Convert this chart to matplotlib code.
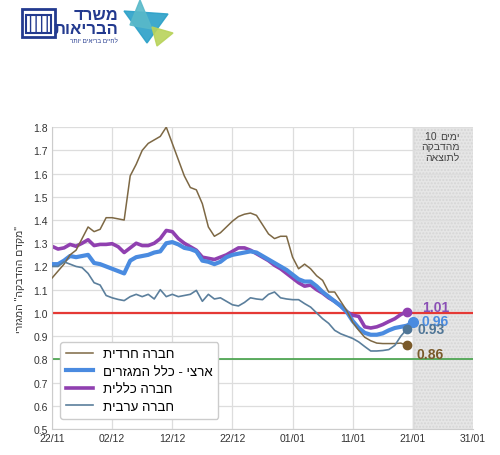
import numpy as np
import pandas as pd
import matplotlib
matplotlib.use('Agg')
import matplotlib.pyplot as plt
import matplotlib.dates as mdates
from matplotlib.patches import Polygon, Rectangle

plt.rcParams['font.family'] = ['Liberation Sans', 'DejaVu Sans']

def heb(s):
    # matplotlib has no bidi, so flip Hebrew to visual order
    return s[::-1]

start = pd.Timestamp('2020-11-22')

haredi = [1.15, 1.18, 1.21, 1.25, 1.27, 1.32, 1.37, 1.35, 1.36, 1.41,
          1.41, 1.405, 1.40, 1.59, 1.64, 1.70, 1.73, 1.745, 1.76, 1.80,
          1.73, 1.66, 1.59, 1.54, 1.53, 1.47, 1.37, 1.33, 1.345, 1.37,
          1.395, 1.415, 1.425, 1.43, 1.42, 1.38, 1.34, 1.32, 1.33, 1.33,
          1.24, 1.19, 1.21, 1.19, 1.16, 1.14, 1.09, 1.09, 1.05, 1.01,
          0.96, 0.925, 0.895, 0.88, 0.87, 0.868, 0.868, 0.868, 0.87, 0.86]

national = [1.21, 1.21, 1.225, 1.245, 1.24, 1.245, 1.25, 1.215, 1.21, 1.20,
            1.19, 1.18, 1.17, 1.225, 1.24, 1.245, 1.25, 1.26, 1.265, 1.30,
            1.305, 1.295, 1.28, 1.275, 1.265, 1.225, 1.22, 1.21, 1.22, 1.24,
            1.25, 1.255, 1.26, 1.265, 1.26, 1.245, 1.23, 1.215, 1.20, 1.185,
            1.165, 1.145, 1.135, 1.135, 1.115, 1.09, 1.07, 1.05, 1.03, 1.005,
            0.965, 0.935, 0.914, 0.906, 0.906, 0.912, 0.925, 0.935, 0.94, 0.945,
            0.96]

general = [1.287, 1.275, 1.28, 1.295, 1.287, 1.30, 1.315, 1.29, 1.295, 1.295,
           1.298, 1.285, 1.26, 1.28, 1.30, 1.29, 1.29, 1.30, 1.32, 1.355,
           1.35, 1.32, 1.30, 1.285, 1.27, 1.24, 1.235, 1.23, 1.24, 1.25,
           1.265, 1.28, 1.28, 1.27, 1.255, 1.24, 1.225, 1.205, 1.19, 1.17,
           1.15, 1.13, 1.115, 1.12, 1.10, 1.085, 1.065, 1.05, 1.03, 1.005,
           0.99, 0.985, 0.94, 0.935, 0.94, 0.95, 0.963, 0.975, 0.993, 1.005]

arab = [1.20, 1.20, 1.22, 1.21, 1.20, 1.195, 1.17, 1.13, 1.12, 1.075,
        1.065, 1.058, 1.053, 1.07, 1.08, 1.07, 1.08, 1.06, 1.10, 1.07,
        1.08, 1.07, 1.075, 1.08, 1.097, 1.05, 1.08, 1.06, 1.065, 1.05,
        1.035, 1.03, 1.045, 1.065, 1.06, 1.057, 1.08, 1.09, 1.065, 1.06,
        1.057, 1.057, 1.04, 1.025, 1.00, 0.975, 0.955, 0.925, 0.91, 0.90,
        0.89, 0.875, 0.855, 0.836, 0.836, 0.838, 0.842, 0.86, 0.90, 0.93]

names = ['חברה חרדית', 'ארצי - כלל המגזרים', 'חברה כללית', 'חברה ערבית']
end_labels = ['0.86', '0.96', '1.01', '0.93']

c_haredi = '#7d6844'
c_nat = '#4a8be0'
c_gen = '#9040b0'
c_arab = '#5b7f9c'

fig = plt.figure(figsize=(5, 4.56), dpi=100)
ax = fig.add_axes([0.104, 0.057, 0.842, 0.662])

d_h = pd.date_range(start, periods=len(haredi))
d_n = pd.date_range(start, periods=len(national))
d_g = pd.date_range(start, periods=len(general))
d_a = pd.date_range(start, periods=len(arab))

# projection zone
ax.axvspan(pd.Timestamp('2021-01-21'), pd.Timestamp('2021-01-31'),
           facecolor='#e6e6e6', edgecolor='#d6d6d6', hatch='.....', lw=0, zorder=0)
ax.axvline(pd.Timestamp('2021-01-21'), color='#c8c8c8', lw=1, zorder=0.5)

ax.axhline(1.0, color='#e53935', lw=1.6, zorder=1)
ax.axhline(0.8, color='#43a047', lw=1.2, zorder=1)

l1, = ax.plot(d_h, haredi, color=c_haredi, lw=1.1, zorder=4, label=heb(names[0]))
l3, = ax.plot(d_g, general, color=c_gen, lw=2.6, zorder=2, label=heb(names[2]))
l2, = ax.plot(d_n, national, color=c_nat, lw=3.0, zorder=3, label=heb(names[1]))
l4, = ax.plot(d_a, arab, color=c_arab, lw=1.2, zorder=4, label=heb(names[3]))

ax.plot(d_h[-1], haredi[-1], 'o', color='#7a5a2a', ms=6, zorder=5)
ax.plot(d_n[-1], national[-1], 'o', color=c_nat, ms=7, zorder=5)
ax.plot(d_g[-1], general[-1], 'o', color=c_gen, ms=6, zorder=5)
ax.plot(d_a[-1], arab[-1], 'o', color='#4f7596', ms=6, zorder=5)

ax.text(d_g[-1] + pd.Timedelta(days=2.6), general[-1] + 0.02, end_labels[2],
        color='#8a4fb5', fontsize=10, fontweight='bold', va='center')
ax.text(d_n[-1] + pd.Timedelta(days=1.5), national[-1] + 0.003, end_labels[1],
        color=c_nat, fontsize=10, fontweight='bold', va='center')
ax.text(d_a[-1] + pd.Timedelta(days=1.8), arab[-1], end_labels[3],
        color='#4f7596', fontsize=10, fontweight='bold', va='center')
ax.text(d_h[-1] + pd.Timedelta(days=1.6), haredi[-1] - 0.035, end_labels[0],
        color='#7a5a2a', fontsize=10, fontweight='bold', va='center')

# "10 days from infection to outcome" note, number placed left of the word
zone_x = pd.Timestamp('2021-01-28 18:00')
w1 = ax.text(zone_x, 1.782, heb('ימים'), ha='right', va='top', fontsize=7.5,
             color='#444444')
ax.annotate('10 ', xy=(0, 0.5), xycoords=w1, ha='right', va='center',
            fontsize=7.5, color='#444444')
ax.text(zone_x, 1.739, heb('מהדבקה') + '\n' + heb('לתוצאה'),
        ha='right', va='top', multialignment='right', fontsize=7.5,
        color='#444444', linespacing=1.05)

ax.set_xlim(pd.Timestamp('2020-11-22'), pd.Timestamp('2021-01-31'))
ax.set_ylim(0.5, 1.8)
ax.set_yticks(np.arange(0.5, 1.81, 0.1))
ax.yaxis.set_major_formatter(plt.FuncFormatter(lambda v, p: f'{v:.1f}'))
ax.set_xticks(pd.date_range('2020-11-22', periods=8, freq='10D'))
ax.xaxis.set_major_formatter(mdates.DateFormatter('%d/%m'))
ax.grid(True, color='#dddddd', lw=0.9)
ax.set_axisbelow(True)
ax.tick_params(labelsize=7.5, colors='#333333', length=0, pad=3)
for s in ['top', 'right']:
    ax.spines[s].set_visible(False)
for s in ['left', 'bottom']:
    ax.spines[s].set_color('#cccccc')

ax.set_ylabel(heb('"מקדם ההדבקה" המגזרי'), fontsize=7.5, color='#333333', labelpad=6)

leg = ax.legend(handles=[l1, l2, l3, l4], loc='lower left', fontsize=9.5,
                handlelength=2.0, frameon=True, framealpha=1, edgecolor='#cccccc',
                borderpad=0.45, labelspacing=0.4, handletextpad=0.75,
                bbox_to_anchor=(0.004, 0.012))
leg.set_zorder(6)

# header logos (decoration)
def fx(px):
    return px / 500

def fy(py):
    return 1 - py / 456

navy = '#233a8f'
fig.text(fx(118), fy(15), heb('משרד'), ha='right', va='center', fontsize=12,
         fontweight='bold', color=navy)
fig.text(fx(118), fy(30), heb('הבריאות'), ha='right', va='center', fontsize=12,
         fontweight='bold', color=navy)
fig.text(fx(118), fy(41), heb('לחיים בריאים יותר'), ha='right', va='center',
         fontsize=4.5, color=navy)
fig.add_artist(Polygon([[fx(124), fy(12)], [fx(168), fy(15)], [fx(147), fy(44)]],
                       closed=True, transform=fig.transFigure, color='#2aa0c8', alpha=0.9))
fig.add_artist(Polygon([[fx(140), fy(1)], [fx(152), fy(30)], [fx(130), fy(26)]],
                       closed=True, transform=fig.transFigure, color='#59b9c9', alpha=0.9))
fig.add_artist(Polygon([[fx(152), fy(28)], [fx(173), fy(34)], [fx(157), fy(47)]],
                       closed=True, transform=fig.transFigure, color='#b8d35a', alpha=0.9))
fig.add_artist(Rectangle((fx(22), fy(38)), fx(33), 28 / 456, transform=fig.transFigure,
                         facecolor='none', edgecolor=navy, lw=2))
fig.add_artist(Rectangle((fx(26), fy(34)), fx(25), 18 / 456, transform=fig.transFigure,
                         facecolor='none', edgecolor=navy, lw=1.5, hatch='|||'))

fig.savefig('out.png', dpi=100)
